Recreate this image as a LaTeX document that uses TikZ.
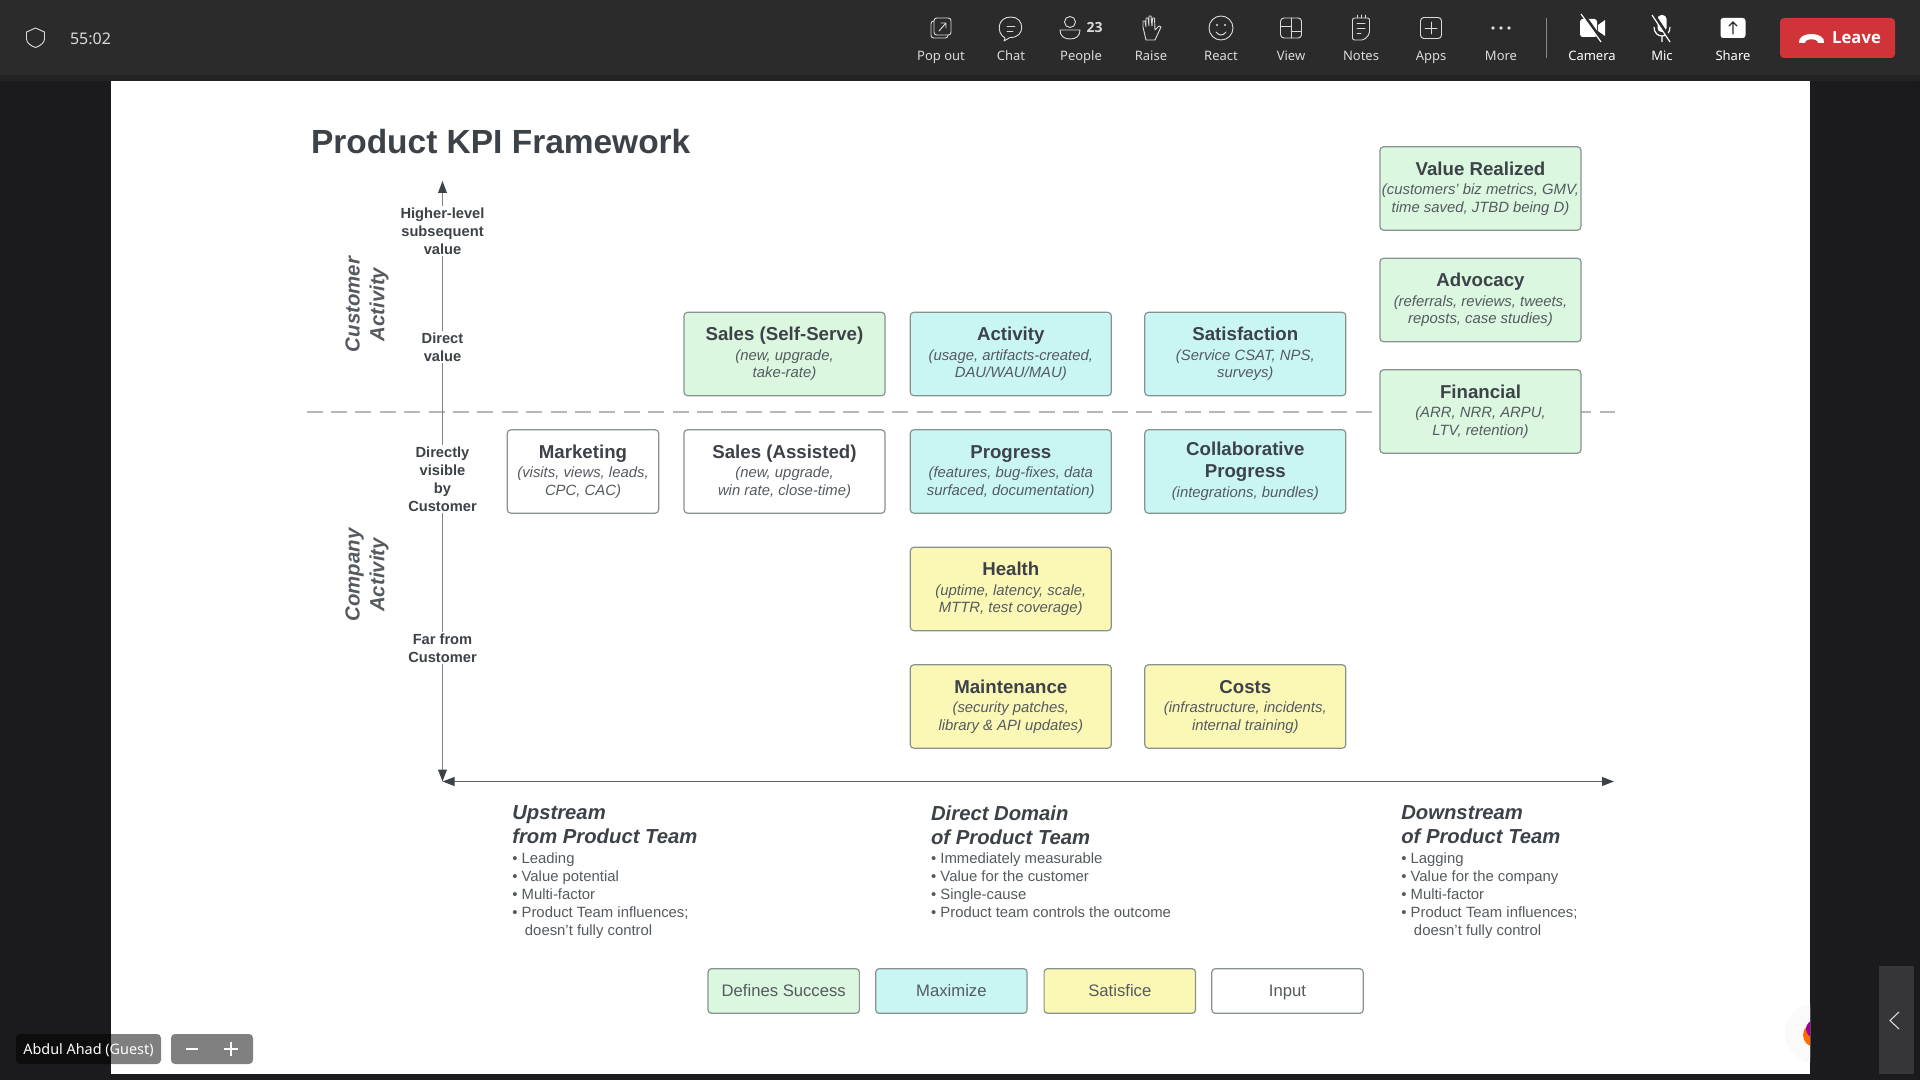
\documentclass[tikz,border=0pt]{standalone}
\usepackage{fontspec}
\setmainfont{Liberation Sans}
\newfontfamily\barfont{Noto Sans}
\newfontfamily\barbold{Open Sans}
\usetikzlibrary{arrows.meta}

\definecolor{backdrop}{HTML}{1B1B1D}
\definecolor{barfill}{HTML}{2B2B2B}
\definecolor{barstrip}{HTML}{232324}
\definecolor{barink}{HTML}{DADADA}
\definecolor{inkdark}{HTML}{3D4249}
\definecolor{inkgrey}{HTML}{555A60}
\definecolor{edgegrey}{HTML}{87938F}
\definecolor{fillgreen}{HTML}{DBF7DF}
\definecolor{fillcyan}{HTML}{C9F6F3}
\definecolor{fillyellow}{HTML}{FBF8B5}
\definecolor{leavered}{HTML}{D13438}

\newcommand{\kpihead}{\fontsize{14}{16.5}\selectfont\bfseries\upshape\color{inkdark}\vphantom{Ay(}}
\newcommand{\sizept}[2]{\fontsize{#1}{#2}\selectfont}

\tikzset{every picture/.style={line width=0.75pt},
  kpibox/.style={draw=edgegrey,line width=0.9pt,rounded corners=2.6pt,minimum width=150.75pt,minimum height=62.5pt,
    inner sep=0pt,align=center,text=inkgrey,font=\sizept{11.15}{13.3}\itshape},
  legendbox/.style={draw=edgegrey,line width=0.9pt,rounded corners=2.6pt,minimum width=113.5pt,minimum height=33.5pt,
    inner sep=0pt,text height=9pt,text depth=1.3pt,text=inkgrey,font=\sizept{12.5}{14}},
  axislabel/.style={inner sep=1pt,align=center,text=inkdark,font=\sizept{11}{13.4}\bfseries},
  sidelabel/.style={inner sep=0pt,align=center,rotate=90,text=inkgrey,font=\sizept{15.3}{18.4}\bfseries\itshape},
  colhead/.style={anchor=north west,inner sep=0pt,align=left,text=inkdark,font=\sizept{15.2}{18.4}\bfseries\itshape},
  collist/.style={anchor=north west,inner sep=0pt,align=left,text=inkgrey,font=\sizept{11.15}{13.45}},
  barlabel/.style={inner sep=0pt,text height=9pt,text depth=2.5pt,text=barink,font=\barfont\sizept{9.75}{12}},
  barlabelon/.style={barlabel,text=white,font=\barfont\sizept{9.75}{12}},
  iconline/.style={draw=barink,line width=0.7pt,line join=round,line cap=round},
  axisline/.style={draw=black!50,line width=0.8pt},
  axisbase/.style={draw=black!62,line width=1.1pt},
  axistip/.style={-{Triangle[length=9pt,width=6.6pt,color=inkdark]}},
  basetips/.style={{Triangle[length=9pt,width=6.6pt,color=inkdark]}-{Triangle[length=9pt,width=6.6pt,color=inkdark]}}
}

\begin{document}
\begin{tikzpicture}[x=0.75pt,y=0.75pt,yscale=-1,xscale=1]
\useasboundingbox (0,0) rectangle (1920,1080);

%Shape: window
\fill [backdrop] (0,0) rectangle (1920,1080);
\fill [black!3!backdrop] (1914,81) rectangle (1920,1080);
\fill [barfill] (0,0) rectangle (1920,75);
\fill [barstrip] (0,75) rectangle (1920,81);
%Shape: slide
\fill [white] (111,81) rectangle (1810,1074);

% Title
\node (title) [anchor=west,inner sep=0pt,text=inkdark,font=\sizept{25.1}{30}\bfseries] at (310.5,142) {Product KPI Framework};

%Shape: dashed divider
\coordinate (divl) at (306.5,411.7);
\coordinate (divr) at (1615,411.7);
\draw [draw=black!28,line width=1.5pt,dash pattern={on 12pt off 6.3pt}] (divl) -- (divr);

% Axis labels
\node (lblhigh) [axislabel] at (442.5,231) {Higher-level\\subsequent\\value};
\node (lbldirect) [axislabel] at (442.5,347) {Direct\\value};
\node (lblvisible) [axislabel] at (442.5,479) {Directly\\visible\\by\\Customer};
\node (lblfar) [axislabel] at (442.5,648) {Far from\\Customer};
\coordinate (axistop) at (442.5,181);
\coordinate (origin) at (442.5,781.5);
\coordinate (axisright) at (1614,781.5);

%Shape: axes
\draw [axisline,axistip] (lblhigh) -- (axistop);
\draw [axisline] (lblhigh) -- (lbldirect);
\draw [axisline] (lbldirect) -- (lblvisible);
\draw [axisline] (lblvisible) -- (lblfar);
\draw [axisline,axistip] (lblfar) -- (origin);
\draw [axisbase,basetips] (origin) -- (axisright);

% Side labels
\node (sidecust) [sidelabel] at (367,304.5) {Customer\\Activity};
\node (sidecomp) [sidelabel] at (367,575) {Company\\Activity};

% Boxes, right column
\node (value) [kpibox,fill=fillgreen] at (1480.5,188.5) {{\kpihead Value Realized}\\[1.4pt](customers' biz metrics, GMV,\\time saved, JTBD being D)};
\node (advocacy) [kpibox,fill=fillgreen] at (1480.5,300) {{\kpihead Advocacy}\\[1.4pt](referrals, reviews, tweets,\\reposts, case studies)};
\node (financial) [kpibox,fill=fillgreen] at (1480.5,411.5) {{\kpihead Financial}\\[1.4pt](ARR, NRR, ARPU,\\LTV, retention)};
% Boxes, upper row
\node (selfserve) [kpibox,fill=fillgreen] at (784.5,354) {{\kpihead Sales (Self-Serve)}\\[1.4pt](new, upgrade,\\take-rate)};
\node (activity) [kpibox,fill=fillcyan] at (1010.8,354) {{\kpihead Activity}\\[1.4pt](usage, artifacts-created,\\DAU/WAU/MAU)};
\node (satisfaction) [kpibox,fill=fillcyan] at (1245.3,354) {{\kpihead Satisfaction}\\[1.4pt](Service CSAT, NPS,\\surveys)};
% Boxes, second row
\node (marketing) [kpibox,fill=white,minimum width=113.5pt] at (583,471.5) {{\kpihead Marketing}\\[1.4pt](visits, views, leads,\\CPC, CAC)};
\node (assisted) [kpibox,fill=white] at (784.5,471.5) {{\kpihead Sales (Assisted)}\\[1.4pt](new, upgrade,\\win rate, close-time)};
\node (progress) [kpibox,fill=fillcyan] at (1010.8,471.5) {{\kpihead Progress}\\[1.4pt](features, bug-fixes, data\\surfaced, documentation)};
\node (collab) [kpibox,fill=fillcyan] at (1245.3,471.5) {{\kpihead Collaborative}\\[3.2pt]{\kpihead Progress}\\[1.4pt](integrations, bundles)};
% Boxes, lower rows
\node (health) [kpibox,fill=fillyellow] at (1010.8,589) {{\kpihead Health}\\[1.4pt](uptime, latency, scale,\\MTTR, test coverage)};
\node (maintenance) [kpibox,fill=fillyellow] at (1010.8,706.5) {{\kpihead Maintenance}\\[1.4pt](security patches,\\library \& API updates)};
\node (costs) [kpibox,fill=fillyellow] at (1245.3,706.5) {{\kpihead Costs}\\[1.4pt](infrastructure, incidents,\\internal training)};

% Column notes
\node (uphead) [colhead] at (511.8,805) {Upstream\\from Product Team};
\node (uplist) [collist] at (511.8,852) {• Leading\\• Value potential\\• Multi-factor\\• Product Team influences;\\\hspace*{9.5pt}doesn't fully control};
\node (dirhead) [colhead] at (930.6,805) {Direct Domain\\of Product Team};
\node (dirlist) [collist] at (930.6,852) {• Immediately measurable\\• Value for the customer\\• Single-cause\\• Product team controls the outcome};
\node (downhead) [colhead] at (1400.8,805) {Downstream\\of Product Team};
\node (downlist) [collist] at (1400.8,852) {• Lagging\\• Value for the company\\• Multi-factor\\• Product Team influences;\\\hspace*{9.5pt}doesn't fully control};

% Legend
\node (legsuccess) [legendbox,fill=fillgreen] at (783.7,991) {Defines Success};
\node (legmax) [legendbox,fill=fillcyan] at (951.4,991) {Maximize};
\node (legsat) [legendbox,fill=fillyellow] at (1119.8,991) {Satisfice};
\node (leginput) [legendbox,fill=white] at (1287.5,991) {Input};

%Shape: shield and timer
\draw [iconline] (35.5,28) -- (44.5,32) -- (44.5,39) .. controls (44.5,43) and (40,46) .. (35.5,47.5) .. controls (31,46) and (26.5,43) .. (26.5,39) -- (26.5,32) -- cycle;
\node (timer) [barlabel,text height=,text depth=,font=\barfont\sizept{12}{14}] at (90.5,39) {55:02};

% Bar labels
\node (lpop) [barlabel] at (941,56.5) {Pop out};
\node (lchat) [barlabel] at (1011,56.5) {Chat};
\node (lpeople) [barlabel] at (1081,56.5) {People};
\node (lraise) [barlabel] at (1151,56.5) {Raise};
\node (lreact) [barlabel] at (1221,56.5) {React};
\node (lview) [barlabel] at (1291,56.5) {View};
\node (lnotes) [barlabel] at (1361,56.5) {Notes};
\node (lapps) [barlabel] at (1431,56.5) {Apps};
\node (lmore) [barlabel] at (1501,56.5) {More};
\node (lcamera) [barlabelon] at (1592,56.5) {Camera};
\node (lmic) [barlabelon] at (1662,56.5) {Mic};
\node (lshare) [barlabelon] at (1733,56.5) {Share};
\node (lcount) [inner sep=0pt,text=barink,font=\barbold\sizept{10.5}{12}\bfseries] at (1094.5,28) {23};

%Shape: pop out icon
\begin{scope}[shift={(941,28)}]
\draw [iconline,rounded corners=2pt] (-7,-10) rectangle (10,7);
\draw [iconline,rounded corners=2pt] (-7,-7) -- (-10,-7) -- (-10,10) -- (7,10) -- (7,7);
\draw [iconline] (-2,3) -- (5,-5) (0,-5) -- (5,-5) -- (5,0);
\end{scope}
%Shape: chat icon
\begin{scope}[shift={(1011,28)}]
\draw [iconline] (-6,10) .. controls (-15,5) and (-14,-11) .. (0,-11) .. controls (14,-11) and (15,10) .. (-1,9.5) -- (-7,13) -- cycle;
\draw [iconline] (-4,-2) -- (4,-2) (-4,3) -- (2,3);
\end{scope}
%Shape: people icon
\begin{scope}[shift={(1070,28)}]
\draw [iconline] (0,-6) circle [radius=5.5];
\draw [iconline] (-10,2) -- (10,2) .. controls (10,8) and (6,11) .. (0,11) .. controls (-6,11) and (-10,8) .. (-10,2) -- cycle;
\end{scope}
%Shape: raise icon
\begin{scope}[shift={(1151,28)}]
\draw [iconline] (-5,12) -- (-8,-1) -- (-8,-7) -- (-6,-7) -- (-5,-1) -- (-5,-10) -- (-3,-10) -- (-2,-2) -- (-2,-12) -- (0,-12) -- (1,-2) -- (1.5,-10) -- (3.5,-10) -- (4,2) -- (8,-2) -- (10,-1) -- (4,12) -- cycle;
\end{scope}
%Shape: react icon
\begin{scope}[shift={(1221,28)}]
\draw [iconline] (0,0) circle [radius=12];
\fill [barink] (-4,-3) circle [radius=1.2] (4,-3) circle [radius=1.2];
\draw [iconline] (-5,4) .. controls (-2,8) and (2,8) .. (5,4);
\end{scope}
%Shape: view icon
\begin{scope}[shift={(1291,28)}]
\draw [iconline,rounded corners=2.5pt] (-10.5,-10) rectangle (10.5,10);
\draw [iconline] (0,-10) -- (0,10) (-10.5,-2) -- (0,-2) (0,3) -- (10.5,3);
\end{scope}
%Shape: notes icon
\begin{scope}[shift={(1361,28)}]
\draw [iconline,rounded corners=1.5pt] (-8.5,-10) -- (8.5,-10) -- (8.5,6) -- (3,12) -- (-8.5,12) -- cycle;
\draw [iconline] (-4,-13) -- (-4,-10) (0,-13) -- (0,-10) (4,-13) -- (4,-10);
\draw [iconline] (-4,-5) -- (4,-5) (-4,0) -- (4,0) (-4,5) -- (0,5);
\end{scope}
%Shape: apps icon
\begin{scope}[shift={(1431,28)}]
\draw [iconline,rounded corners=2.5pt] (-10.5,-10.5) rectangle (10.5,10.5);
\draw [iconline] (0,-6) -- (0,6) (-6,0) -- (6,0);
\end{scope}
%Shape: more icon
\fill [barink] (1493,28) circle [radius=1.8] (1501,28) circle [radius=1.8] (1509,28) circle [radius=1.8];
%Shape: separator
\coordinate (septop) at (1546,18);
\coordinate (sepbot) at (1546,58);
\draw [draw=white!45!barfill,line width=0.75pt] (septop) -- (sepbot);
%Shape: camera icon
\begin{scope}[shift={(1592,28)}]
\fill [white,rounded corners=2pt] (-12,-9) rectangle (5,9);
\fill [white] (6,-3) -- (13,-8) -- (13,8) -- (6,3) -- cycle;
\draw [barfill,line width=2.4pt] (-9,-14) -- (11,14);
\draw [white,line width=0.9pt] (-11,-14) -- (9,14);
\end{scope}
%Shape: mic icon
\begin{scope}[shift={(1662,28)}]
\fill [white,rounded corners=3pt] (-4.5,-13) rectangle (4.5,4);
\draw [white,line width=0.9pt] (-8,-1) .. controls (-8,11) and (8,11) .. (8,-1) (0,8) -- (0,14);
\draw [barfill,line width=2.4pt] (-8,-13) -- (10,14);
\draw [white,line width=0.9pt] (-10,-13) -- (8,14);
\end{scope}
%Shape: share icon
\begin{scope}[shift={(1733,28)}]
\fill [white,rounded corners=2pt] (-12.5,-10) rectangle (12.5,10);
\draw [barfill,line width=0.9pt,line cap=round] (0,6) -- (0,-6) (-4,-2) -- (0,-6) -- (4,-2);
\end{scope}
%Shape: leave button
\node (leave) [fill=leavered,rounded corners=3pt,inner sep=0pt,minimum width=86.25pt,minimum height=30pt,text=white] at (1837.5,38) {\hspace*{28.5pt}\barbold\sizept{12.5}{14}\bfseries Leave};
\fill [white] (1799,43) .. controls (1797,31) and (1826,31) .. (1824,43) -- (1818,43) .. controls (1818,38) and (1805,38) .. (1805,43) -- cycle;

%Shape: floating badge
\begin{scope}
\clip (111,81) rectangle (1810,1074);
\fill [black!2] (1815,1033) circle [radius=30];
\fill [white!98!black] (1815,1033) circle [radius=25];
\fill [orange!85!red] (1815,1035) circle [radius=12];
\fill [violet!75!magenta] (1815,1029) circle [radius=9];
\end{scope}

%Shape: side tab
\fill [white!12!backdrop] (1879,966) rectangle (1914,1074);
\coordinate (chevtop) at (1899,1012);
\coordinate (chevmid) at (1890,1020.5);
\coordinate (chevbot) at (1899,1029);
\draw [barink,line width=0.8pt] (chevtop) -- (chevmid) -- (chevbot);

%Shape: name tag
\fill [black,fill opacity=0.5,rounded corners=3pt] (16,1034) rectangle (161,1064);
\node (guest) [inner sep=0pt,text=white,font=\barfont\sizept{10.8}{13}] at (88.5,1050) {Abdul Ahad (Guest)};
%Shape: zoom buttons
\fill [black!50,rounded corners=3pt] (171,1034) rectangle (253,1064);
\draw [white,line width=0.8pt] (186,1049) -- (198,1049) (231,1042) -- (231,1056) (224,1049) -- (238,1049);

\end{tikzpicture}
\end{document}
